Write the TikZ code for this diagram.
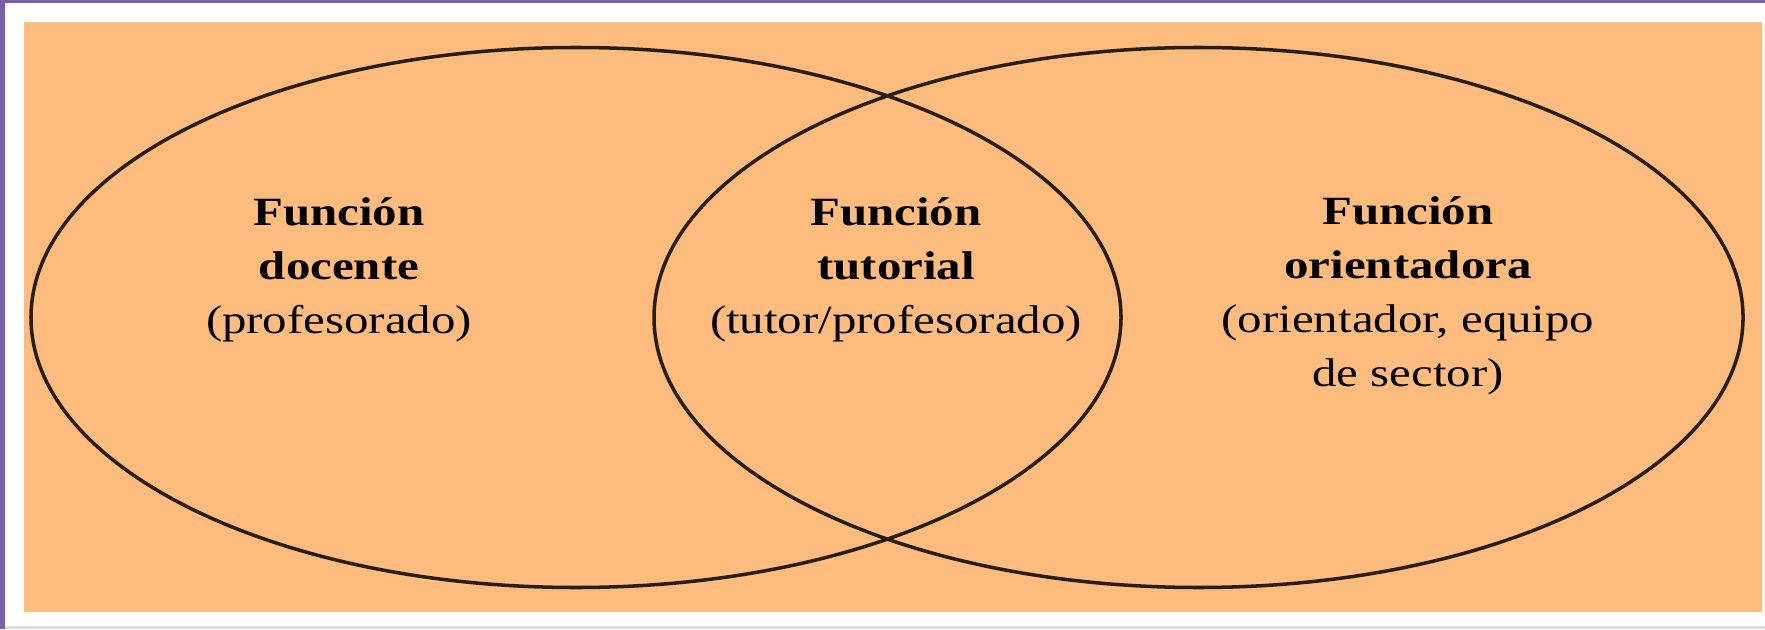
\documentclass[tikz,border=0pt]{standalone}
\usepackage{fontspec}
\setmainfont{Liberation Serif}
\usetikzlibrary{positioning}
\definecolor{frameviolet}{RGB}{123,94,167}
\definecolor{venncream}{RGB}{253,188,126}
\definecolor{vennline}{RGB}{40,30,22}
\definecolor{shadegray}{RGB}{222,222,222}

\begin{document}
\begin{tikzpicture}[
		  vennlabel/.style={align=center, inner sep=0pt, transform shape, xscale=1.22,
		    font=\fontsize{11.4}{15.3}\selectfont},
		  set/.style={draw=vennline, line width=1pt}
		]
		\useasboundingbox (0,0) rectangle (17.65,6.29);
		\fill[white] (0,0) rectangle (17.65,6.29);
		\fill[frameviolet] (0,6.26) rectangle (17.65,6.29);
		\fill[frameviolet] (0,0) rectangle (0.055,6.29);
		\fill[shadegray] (0.055,0) rectangle (17.65,0.03);
		\fill[venncream] (0.24,0.17) rectangle (17.62,6.07);
		
		\draw[set] (5.76,3.115) ellipse [x radius=5.45, y radius=2.70];
		\draw[set] (11.985,3.115) ellipse [x radius=5.445, y radius=2.70];
		
		\node[vennlabel] (docente) at (3.39,3.59) {\textbf{Función}\\\textbf{docente}\\(profesorado)};
		\node[vennlabel] (tutorial) at (8.96,3.59) {\textbf{Función}\\\textbf{tutorial}\\(tutor/profesorado)};
		\node[vennlabel] (orienta) at (14.08,3.33) {\textbf{Función}\\\textbf{orientadora}\\(orientador, equipo\\de sector)};
		\end{tikzpicture}
\end{document}
